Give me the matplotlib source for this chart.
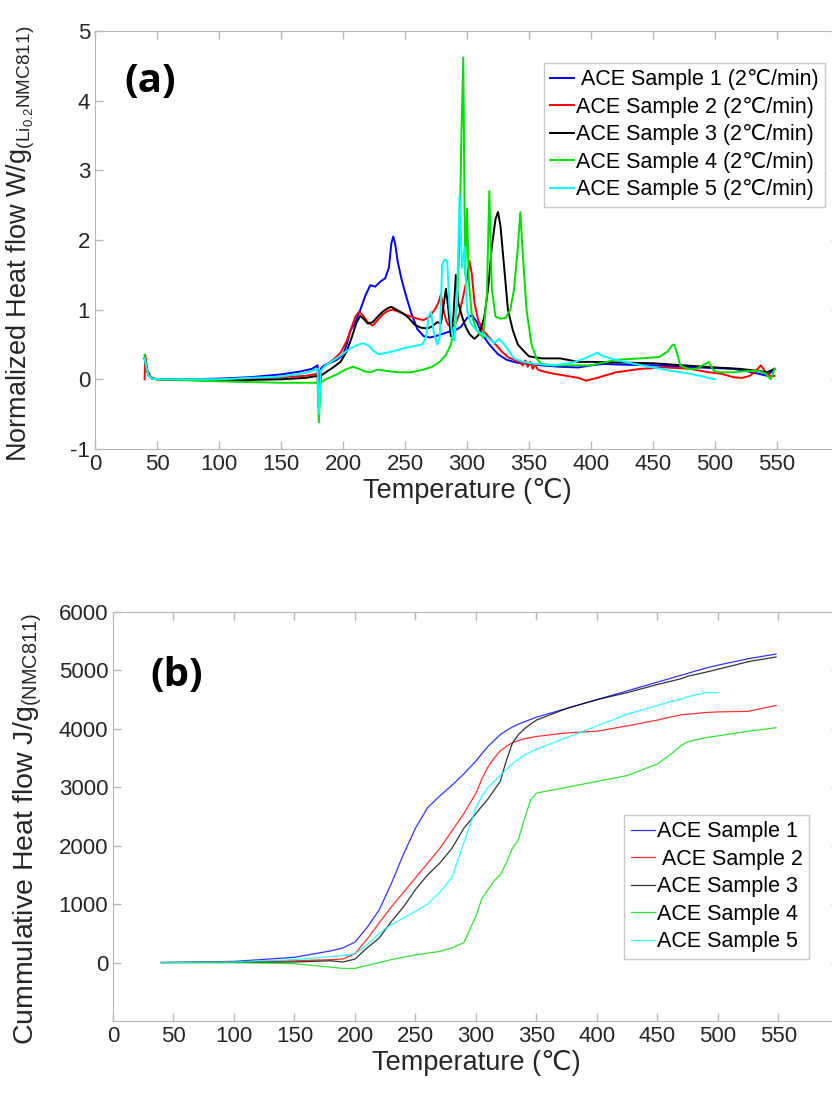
import matplotlib.pyplot as plt

# ---- panel (a): normalized heat flow ----
t1 = [40, 41, 43, 46, 50, 75, 100, 125, 150, 165, 175, 179.5, 180.5, 182, 185, 190, 195, 200, 203, 206, 210, 214, 218, 222, 226, 230, 234, 237, 239, 240.5, 242, 244, 247, 250, 255, 260, 265, 270, 275, 280, 285, 290, 295, 300, 304, 308, 312, 318, 325, 332, 340, 350, 360, 375, 390, 400, 410, 425, 450, 475, 500, 515, 525, 535, 542, 548]
h1 = [0.3, 0.2, 0.06, 0.01, 0, 0, 0.01, 0.03, 0.07, 0.11, 0.15, 0.2, -0.25, 0.15, 0.2, 0.24, 0.28, 0.35, 0.5, 0.7, 0.82, 1.0, 1.2, 1.35, 1.33, 1.4, 1.45, 1.6, 1.95, 2.05, 1.95, 1.7, 1.45, 1.25, 0.95, 0.72, 0.62, 0.6, 0.62, 0.65, 0.68, 0.7, 0.75, 0.88, 0.92, 0.82, 0.65, 0.5, 0.36, 0.28, 0.24, 0.22, 0.2, 0.18, 0.17, 0.2, 0.22, 0.21, 0.2, 0.18, 0.16, 0.15, 0.12, 0.08, 0.05, 0.15]

t2 = [40, 40.5, 42, 45, 50, 100, 150, 170, 179.5, 180.5, 182, 186, 192, 198, 203, 207, 210, 213, 216, 220, 224, 228, 232, 236, 240, 245, 250, 255, 260, 265, 270, 274, 277, 279, 281, 283, 285, 288, 291, 294, 297, 300, 302, 304, 306, 309, 313, 318, 323, 328, 333, 338, 342, 345, 347, 349, 351, 353, 355, 357, 360, 365, 370, 380, 390, 396, 405, 420, 440, 460, 480, 495, 505, 515, 522, 528, 533, 537, 541, 545, 548]
h2 = [0, 0.35, 0.15, 0.03, 0, 0, 0.03, 0.05, 0.08, -0.3, 0.12, 0.2, 0.28, 0.38, 0.55, 0.75, 0.9, 0.97, 0.92, 0.82, 0.77, 0.85, 0.93, 0.98, 1.0, 0.97, 0.93, 0.9, 0.87, 0.85, 0.9, 1.0, 1.1, 1.22, 1.0, 0.85, 0.78, 0.75, 0.8, 0.95, 1.2, 1.45, 1.7, 1.5, 1.1, 0.85, 0.7, 0.6, 0.5, 0.4, 0.32, 0.28, 0.25, 0.2, 0.27, 0.18, 0.25, 0.15, 0.22, 0.14, 0.12, 0.1, 0.08, 0.05, 0.02, -0.02, 0.02, 0.1, 0.15, 0.17, 0.15, 0.1, 0.08, 0.03, 0.02, 0.05, 0.12, 0.2, 0.1, 0.04, 0.05]

t3 = [40, 41, 43, 46, 50, 100, 150, 170, 179.5, 180.5, 182, 186, 192, 198, 203, 207, 211, 214, 217, 220, 224, 228, 232, 236, 239, 243, 248, 253, 258, 263, 268, 272, 276, 279, 281, 283, 285, 287, 289, 291, 293, 296, 299, 302, 306, 310, 314, 317, 320, 323, 325, 327, 330, 333, 337, 341, 345, 350, 360, 375, 390, 400, 425, 450, 475, 500, 520, 535, 542, 548]
h3 = [0.3, 0.2, 0.06, 0.01, 0, -0.02, 0, 0.02, 0.05, -0.4, 0.05, 0.1, 0.17, 0.25, 0.4, 0.6, 0.82, 0.91, 0.86, 0.8, 0.82, 0.9, 0.97, 1.02, 1.04, 1.0, 0.95, 0.88, 0.78, 0.74, 0.73, 0.76, 0.82, 0.8, 1.05, 1.3, 1.0, 0.62, 0.9, 1.5, 1.1, 0.9, 0.75, 0.65, 0.58, 0.65, 0.9, 1.3, 1.9, 2.3, 2.4, 2.2, 1.6, 1.0, 0.7, 0.5, 0.42, 0.33, 0.3, 0.3, 0.25, 0.25, 0.24, 0.23, 0.2, 0.17, 0.15, 0.12, 0.1, 0.15]

t4 = [40, 41, 43, 46, 50, 100, 150, 179.5, 180.5, 182, 186, 195, 202, 208, 213, 218, 222, 228, 235, 245, 255, 265, 272, 278, 283, 287, 290, 292, 294, 295.5, 297, 298.5, 300, 301.5, 304, 308, 313, 316, 318, 320, 323, 327, 331, 335, 338, 341, 343, 345, 348, 352, 356, 360, 370, 385, 400, 420, 440, 455, 462, 465, 467, 469, 472, 478, 485, 492, 495, 499, 505, 515, 525, 535, 541, 545, 548]
h4 = [0.35, 0.22, 0.06, 0.01, 0, -0.03, -0.05, -0.05, -0.62, -0.05, 0.0, 0.07, 0.14, 0.18, 0.15, 0.11, 0.1, 0.14, 0.12, 0.1, 0.1, 0.14, 0.18, 0.25, 0.35, 0.5, 0.75, 1.1, 2.0, 3.5, 4.62, 1.5, 2.45, 1.4, 0.9, 0.7, 0.6, 1.2, 2.7, 1.3, 0.9, 0.87, 0.88, 1.0, 1.3, 1.9, 2.4, 1.8, 1.0, 0.5, 0.3, 0.22, 0.2, 0.2, 0.2, 0.28, 0.3, 0.32, 0.4, 0.48, 0.5, 0.4, 0.2, 0.15, 0.15, 0.22, 0.25, 0.12, 0.1, 0.1, 0.12, 0.12, 0.08, 0.0, 0.15]

t5 = [40, 41, 43, 46, 50, 100, 150, 170, 179.5, 180.5, 182, 186, 192, 198, 204, 210, 216, 221, 225, 229, 235, 242, 250, 258, 264, 267, 269, 271, 273, 276, 278, 280, 282, 284, 286, 288, 290, 292, 294, 296, 298, 300, 303, 307, 312, 318, 322, 326, 330, 334, 338, 345, 355, 370, 385, 395, 400, 405, 410, 420, 435, 450, 465, 480, 490, 500]
h5 = [0.3, 0.2, 0.06, 0.01, 0, 0.0, 0.04, 0.09, 0.15, -0.5, 0.12, 0.2, 0.27, 0.34, 0.42, 0.48, 0.52, 0.48, 0.4, 0.36, 0.38, 0.41, 0.45, 0.48, 0.5, 0.6, 0.9, 0.97, 0.7, 0.5, 0.6, 1.65, 1.72, 1.7, 1.0, 0.65, 0.55, 1.2, 2.65, 1.6, 1.9, 1.0, 0.8, 0.72, 0.65, 0.58, 0.52, 0.58, 0.5, 0.4, 0.3, 0.25, 0.22, 0.2, 0.24, 0.3, 0.34, 0.38, 0.33, 0.28, 0.22, 0.17, 0.12, 0.08, 0.04, 0.0]

# ---- panel (b): cumulative heat flow ----
tc = [40, 100, 150, 180, 190, 200, 210, 220, 230, 240, 250, 260, 270, 280, 290, 300, 305, 310, 315, 320, 325, 330, 335, 340, 345, 350, 375, 400, 425, 450, 460, 470, 475, 490, 500, 525, 548]
c1 = [0, 20, 90, 200, 250, 350, 600, 900, 1350, 1850, 2300, 2650, 2850, 3030, 3230, 3450, 3580, 3700, 3800, 3900, 3970, 4030, 4080, 4120, 4160, 4200, 4350, 4500, 4650, 4800, 4860, 4920, 4950, 5040, 5090, 5200, 5280]
c2 = [0, 10, 30, 50, 60, 150, 400, 680, 950, 1200, 1450, 1700, 1950, 2250, 2550, 2900, 3150, 3350, 3500, 3620, 3700, 3760, 3800, 3830, 3850, 3870, 3930, 3960, 4050, 4150, 4200, 4240, 4250, 4280, 4290, 4300, 4400]
c3 = [0, 0, 10, 30, 10, 60, 250, 420, 700, 950, 1250, 1500, 1700, 1950, 2300, 2550, 2680, 2800, 2950, 3100, 3450, 3750, 3900, 4000, 4080, 4150, 4350, 4500, 4620, 4760, 4810, 4860, 4900, 4970, 5020, 5150, 5230]
c4 = [0, 0, -20, -80, -100, -100, -50, 0, 50, 90, 130, 160, 190, 250, 340, 800, 1100, 1250, 1400, 1500, 1700, 1950, 2100, 2450, 2780, 2900, 3000, 3100, 3200, 3400, 3550, 3720, 3780, 3850, 3880, 3960, 4020]
c5 = [0, 10, 50, 100, 120, 150, 300, 500, 650, 760, 880, 1000, 1200, 1450, 2050, 2650, 2850, 3000, 3100, 3200, 3300, 3400, 3480, 3550, 3600, 3650, 3850, 4050, 4250, 4400, 4460, 4510, 4550, 4620, 4620, None, None]

colours = ['#0000ff', '#ff0000', '#000000', '#00e000', '#00ffff']
labels_a = [' ACE Sample 1 (2\u2103/min)', 'ACE Sample 2 (2\u2103/min)', 'ACE Sample 3 (2\u2103/min)',
            'ACE Sample 4 (2\u2103/min)', 'ACE Sample 5 (2\u2103/min)']
labels_b = ['ACE Sample 1', ' ACE Sample 2', 'ACE Sample 3', 'ACE Sample 4', 'ACE Sample 5']

plt.rcParams['font.family'] = ['Liberation Sans', 'DejaVu Sans']
plt.rcParams['mathtext.default'] = 'regular'
plt.rcParams['axes.unicode_minus'] = False
plt.rcParams['axes.edgecolor'] = '#b8b8b8'
plt.rcParams['xtick.color'] = '#b8b8b8'
plt.rcParams['ytick.color'] = '#b8b8b8'
plt.rcParams['xtick.labelcolor'] = '#262626'
plt.rcParams['ytick.labelcolor'] = '#262626'


def style_axes(ax):
    ax.tick_params(direction='in', top=True, right=True, length=6, width=1, labelsize=16)
    ax.set_xticks(range(0, 551, 50))
    ax.set_xlim(0, 600)
    ax.set_xlabel('Temperature (\u2103)', fontsize=19.5, color='#262626', labelpad=2)


def add_legend(fig, ax, labels_anchor):
    leg = ax.legend(loc='upper right', bbox_to_anchor=labels_anchor, bbox_transform=fig.transFigure,
                    fontsize=15.5, fancybox=False, framealpha=1, edgecolor='#c8c8c8', handlelength=1.1,
                    handletextpad=0.1, labelspacing=0.3, borderpad=0.3, borderaxespad=0)
    leg.get_frame().set_linewidth(1)


def plot_panels():
    fig = plt.figure(figsize=(8.32, 10.95), dpi=100)

    ax1 = fig.add_axes([0.1142, 0.5900, 0.8942, 0.3817])
    for t, h, c, lab in zip([t1, t2, t3, t4, t5], [h1, h2, h3, h4, h5], colours, labels_a):
        ax1.plot(t, h, color=c, lw=1.4, label=lab)
    style_axes(ax1)
    ax1.set_ylim(-1, 5)
    ax1.set_yticks(range(-1, 6))
    ax1.set_ylabel('Normalized Heat flow W/g$_{(Li_{0.2}NMC811)}$', fontsize=19.5, color='#262626')
    ax1.yaxis.set_label_coords(-0.078, 0.49)
    add_legend(fig, ax1, (825 / 832, 1 - 63 / 1095))
    fig.text(150 / 832, 1 - 82 / 1095, '(a)', fontsize=29, fontweight='bold', family='Open Sans',
             ha='center', va='center')

    ax2 = fig.add_axes([0.1358, 0.0676, 0.8726, 0.3735])
    for c_vals, c, lab in zip([c1, c2, c3, c4, c5], colours, labels_b):
        pts = [(t, v) for t, v in zip(tc, c_vals) if v is not None]
        ax2.plot([p[0] for p in pts], [p[1] for p in pts], color=c, lw=0.9, alpha=0.8, label=lab)
    style_axes(ax2)
    ax2.set_ylim(-1000, 6000)
    ax2.set_yticks(range(0, 6001, 1000))
    ax2.set_ylabel('Cummulative Heat flow J/g$_{(NMC811)}$', fontsize=20.5, color='#262626')
    ax2.yaxis.set_label_coords(-0.095, 0.47)
    add_legend(fig, ax2, (809 / 832, 1 - 815 / 1095))
    fig.text(177 / 832, 1 - 676 / 1095, '(b)', fontsize=29, fontweight='bold', family='Open Sans',
             ha='center', va='center')

    fig.savefig('out.png', dpi=100)


if __name__ == '__main__':
    plot_panels()
